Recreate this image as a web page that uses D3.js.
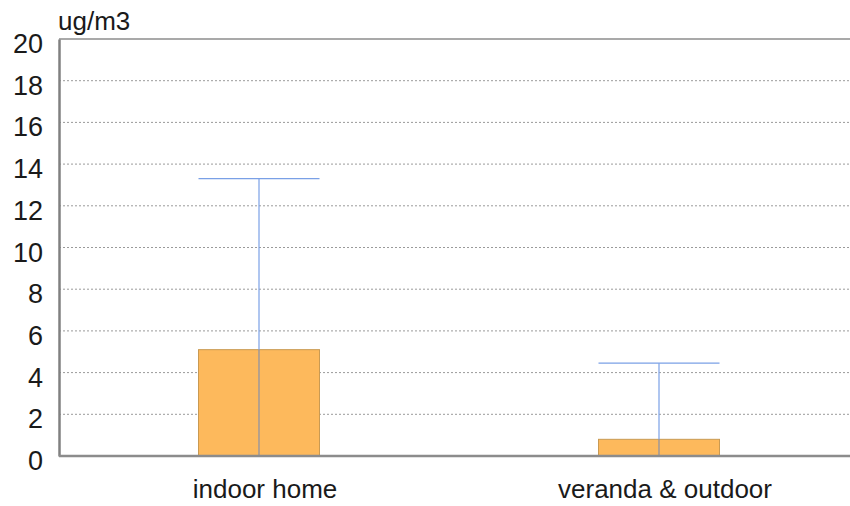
<!DOCTYPE html>
<html>
<head>
<meta charset="utf-8">
<script src="https://cdn.jsdelivr.net/npm/d3@7/dist/d3.min.js"></script>
<style>
  html, body { margin: 0; padding: 0; background: #fff; }
  svg { display: block; font-family: "Liberation Sans", Arial, sans-serif; }
</style>
</head>
<body>
<svg id="chart" width="850" height="506"></svg>
<script>
// Mean concentration per location with upper error bound
const categories = ["indoor home", "veranda & outdoor"];
const means = [5.1, 0.8];
const upper = [13.3, 4.45];
const yTicks = [0, 2, 4, 6, 8, 10, 12, 14, 16, 18, 20];
const unitLabel = "ug/m3";

const svg = d3.select("#chart");
const plotLeft = 59, plotRight = 859, plotTop = 39, plotBottom = 456;
const font = "Liberation Sans, Arial, sans-serif";

const x = d3.scaleBand().domain(categories).range([plotLeft, plotRight]).paddingInner(0).paddingOuter(0);
const y = d3.scaleLinear().domain([0, 20]).range([plotBottom, plotTop]);
const barW = 121;

// dotted gridlines
svg.append("g").selectAll("line")
  .data(yTicks.filter(t => t > 0 && t < 20))
  .join("line")
  .attr("x1", plotLeft).attr("x2", 850)
  .attr("y1", d => y(d)).attr("y2", d => y(d))
  .attr("stroke", "#9a9a9a").attr("stroke-width", 1)
  .attr("stroke-dasharray", "2,2");

// top border
svg.append("line")
  .attr("x1", plotLeft).attr("x2", 850)
  .attr("y1", y(20)).attr("y2", y(20))
  .attr("stroke", "#8c8c8c").attr("stroke-width", 1.5);

// bars
const g = svg.append("g");
g.selectAll("rect")
  .data(categories)
  .join("rect")
  .attr("x", d => x(d) + x.bandwidth() / 2 - barW / 2)
  .attr("width", barW)
  .attr("y", (d, i) => y(means[i]))
  .attr("height", (d, i) => y(0) - y(means[i]))
  .attr("fill", "#fdb95c")
  .attr("stroke", "#c99a52")
  .attr("stroke-width", 1);

// error whiskers
const err = svg.append("g").attr("stroke", "#7aa0e6").attr("stroke-width", 1.2);
categories.forEach((c, i) => {
  const cx = x(c) + x.bandwidth() / 2;
  err.append("line")
    .attr("x1", cx).attr("x2", cx)
    .attr("y1", y(0)).attr("y2", y(means[i]))
    .attr("stroke", "#8890a8");
  err.append("line")
    .attr("x1", cx).attr("x2", cx)
    .attr("y1", y(means[i])).attr("y2", y(upper[i]));
  err.append("line")
    .attr("x1", cx - barW / 2).attr("x2", cx + barW / 2)
    .attr("y1", y(upper[i])).attr("y2", y(upper[i]));
});

// y axis
const yAxis = d3.axisLeft(y).tickValues(yTicks).tickSize(0).tickPadding(16);
const ya = svg.append("g").attr("transform", `translate(${plotLeft},0)`).call(yAxis);
ya.select(".domain").attr("stroke", "#808080").attr("stroke-width", 2.5);
ya.selectAll("text")
  .attr("font-size", 27).attr("fill", "#1a1a1a").attr("font-family", font)
  .attr("dy", "0.5em");

// baseline / x axis
const xAxis = d3.axisBottom(x).tickSize(0).tickPadding(0);
const xa = svg.append("g").attr("transform", `translate(0,${plotBottom})`).call(xAxis);
xa.select(".domain").attr("d", `M${plotLeft},0H850`).attr("stroke", "#8c8c8c").attr("stroke-width", 2.5);
xa.selectAll("text")
  .attr("font-size", 26).attr("fill", "#1a1a1a").attr("font-family", font)
  .attr("dy", 0).attr("y", 42).attr("x", 6);

// unit label
svg.append("text")
  .attr("x", plotLeft - 1).attr("y", 30)
  .attr("font-size", 26).attr("fill", "#1a1a1a").attr("font-family", font)
  .text(unitLabel);
</script>
</body>
</html>
